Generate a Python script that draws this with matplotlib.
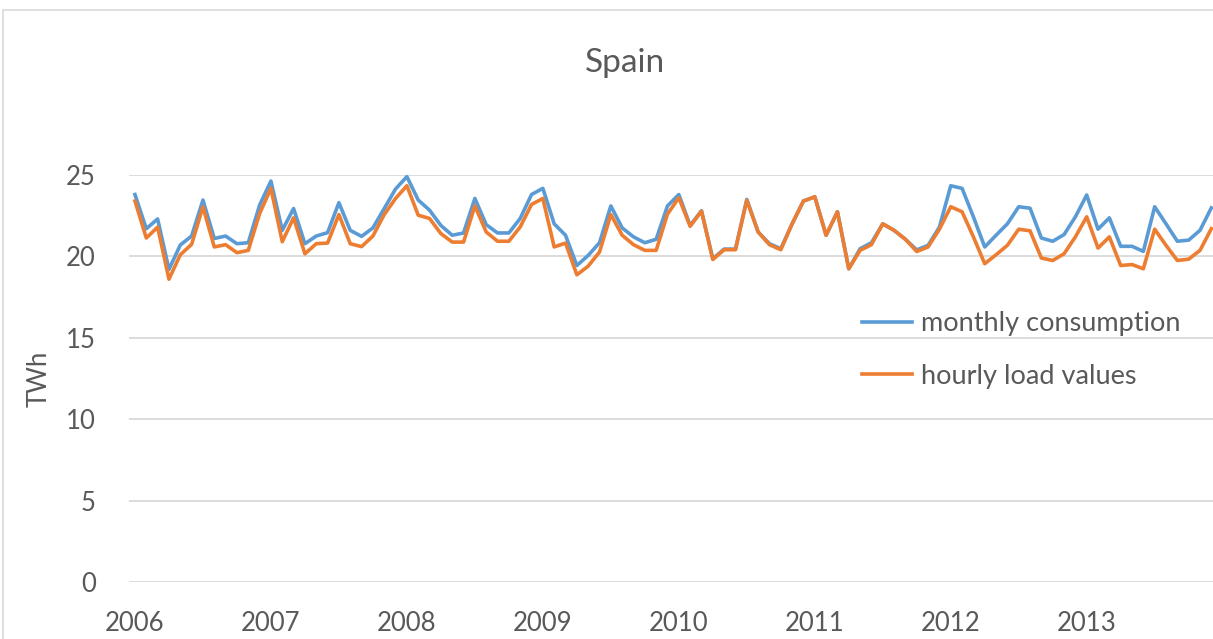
import matplotlib
matplotlib.use('Agg')
import matplotlib.pyplot as plt
from matplotlib.patches import Rectangle
import numpy as np

plt.rcParams['font.family'] = ['Lato', 'DejaVu Sans']

# monthly values Jan 2006 .. Dec 2013, TWh
monthly = [23.8, 21.7, 22.3, 19.2, 20.7, 21.25, 23.46, 21.1, 21.25, 20.78, 20.84, 23.15,
           24.63, 21.6, 22.94, 20.78, 21.25, 21.46, 23.3, 21.6, 21.23, 21.75, 22.94, 24.14,
           24.9, 23.46, 22.84, 21.9, 21.3, 21.44, 23.56, 21.95, 21.44, 21.44, 22.33, 23.8,
           24.18, 22.0, 21.3, 19.44, 20.06, 20.84, 23.1, 21.75, 21.2, 20.84, 21.05, 23.1,
           23.8, 21.9, 22.8, 19.85, 20.45, 20.45, 23.5, 21.5, 20.78, 20.47, 22.0, 23.4,
           23.66, 21.3, 22.74, 19.24, 20.47, 20.84, 22.0, 21.6, 21.05, 20.4, 20.68, 21.8,
           24.34, 24.18, 22.43, 20.58, 21.3, 22.0, 23.05, 22.96, 21.13, 20.93, 21.34, 22.43,
           23.77, 21.67, 22.37, 20.62, 20.62, 20.31, 23.05, 22.0, 20.93, 21.0, 21.6, 22.98]
hourly = [23.4, 21.13, 21.8, 18.6, 20.1, 20.74, 23.05, 20.58, 20.72, 20.23, 20.37, 22.63,
          24.18, 20.9, 22.37, 20.16, 20.78, 20.82, 22.57, 20.78, 20.6, 21.25, 22.57, 23.56,
          24.34, 22.53, 22.33, 21.4, 20.88, 20.88, 23.1, 21.5, 20.93, 20.93, 21.81, 23.19,
          23.56, 20.58, 20.82, 18.87, 19.4, 20.27, 22.57, 21.3, 20.72, 20.37, 20.37, 22.6,
          23.6, 21.85, 22.78, 19.81, 20.41, 20.41, 23.45, 21.5, 20.72, 20.41, 22.0, 23.4,
          23.66, 21.3, 22.74, 19.24, 20.37, 20.72, 22.0, 21.6, 21.05, 20.3, 20.58, 21.67,
          23.05, 22.74, 21.2, 19.55, 20.1, 20.68, 21.67, 21.57, 19.9, 19.75, 20.16, 21.2,
          22.43, 20.51, 21.2, 19.44, 19.5, 19.24, 21.67, 20.68, 19.75, 19.83, 20.37, 21.7]
year_labels = ['2006', '2007', '2008', '2009', '2010', '2011', '2012', '2013']
y_ticks = [0, 5, 10, 15, 20, 25]

W, H = 1213, 639
fig = plt.figure(figsize=(W / 100, H / 100), dpi=100)
fig.patches.append(Rectangle((3 / W, -0.1), 1.2, 1 - 10 / H + 0.1, transform=fig.transFigure,
                             facecolor='none', edgecolor='#D9D9D9', lw=1.2))

ax = fig.add_axes([129.3 / W, 1 - 582 / H, (1217 - 129.3) / W, (582 - 175) / H])
x = np.arange(len(monthly))
ax.plot(x, monthly, color='#5B9BD5', lw=2.6, label='monthly consumption', clip_on=False,
        solid_joinstyle='round')
ax.plot(x, hourly, color='#ED7D31', lw=2.6, label='hourly load values', clip_on=False,
        solid_joinstyle='round')

ax.set_xlim(-0.5, len(monthly) - 0.5)
ax.set_ylim(0, 25)
ax.set_yticks(y_ticks)
ax.set_xticks(np.arange(0, 96, 12))
ax.set_xticklabels(year_labels)
ax.grid(axis='y', color='#D9D9D9', lw=1.3)
ax.set_axisbelow(True)
for s in ax.spines.values():
    s.set_visible(False)
ax.tick_params(length=0, labelsize=18.5, colors='#595959')
ax.tick_params(axis='y', pad=24)
ax.tick_params(axis='x', pad=21)
ax.set_ylabel('TWh', fontsize=18.5, color='#595959', labelpad=10)

fig.text(625 / W, 1 - 63 / H, 'Spain', ha='center', va='center', fontsize=24, color='#595959')

ax.legend(loc='center left', bbox_to_anchor=(838 / W, 1 - 350 / H), bbox_transform=fig.transFigure,
          frameon=False, fontsize=19.5, handlelength=1.85, handletextpad=0.3, labelspacing=1.0,
          labelcolor='#595959')

fig.savefig('out.png', dpi=100)
